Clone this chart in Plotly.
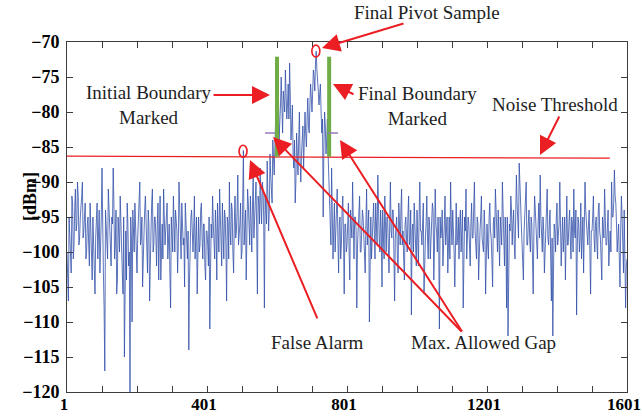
import plotly.graph_objects as go

# samples at 1,5,9,...,1601 (main) and 3,7,...,1599 (in-between)
main_1_397 = [-100,-107,-97,-103,-93,-99,-91,-96,-92,-98,
              -94,-90,-97,-93,-100,-95,-102,-97,-104,-99,
              -106,-96,-101,-94,-100,-88,-103,-117,-96,-101,
              -93,-99,-95,-88,-101,-94,-104,-97,-92,-99,
              -106,-115,-97,-93,-102,-120,-98,-94,-100,-96,
              -103,-95,-90,-98,-105,-96,-92,-100,-94,-107,
              -97,-91,-99,-95,-102,-93,-98,-104,-96,-91,
              -99,-94,-101,-96,-108,-97,-92,-100,-95,-103,
              -90,-97,-93,-99,-105,-96,-101,-114,-98,-94,
              -100,-92,-97,-106,-95,-99,-93,-101,-96,-104]

main_401_797 = [-97,-102,-111,-96,-92,-99,-94,-104,-97,-91,
                -98,-93,-101,-95,-107,-96,-90,-99,-94,-103,
                -92,-97,-89,-98,-93,-100,-85.5,-96,-104,-91,
                -97,-92,-100,-89,-95,-90,-106,-93,-88,-96,
                -91,-108,-94,-87,-97,-86,-92,-84,-89,-81,
                -86,-77,-82,-75,-83,-78,-74,-81,-76,-73,
                -84,-79,-88,-93,-83,-89,-80,-90,-84,-88,
                -80,-85,-78,-83,-76,-80,-74,-77,-71.3,-75,
                -79,-76,-83,-95,-80,-86,-81,-89,-96,-88,
                -101,-93,-97,-91,-103,-95,-99,-92,-106,-96]

main_801_1197 = [-99,-93,-104,-97,-90,-101,-95,-108,-96,-92,
                 -100,-94,-98,-103,-91,-97,-110,-95,-99,-93,
                 -101,-96,-89,-98,-94,-105,-97,-92,-100,-95,
                 -103,-90,-98,-94,-107,-96,-101,-93,-99,-91,
                 -97,-104,-95,-100,-92,-98,-109,-96,-93,-99,
                 -94,-102,-90,-97,-95,-106,-98,-92,-101,-96,
                 -99,-93,-104,-91,-97,-95,-111,-98,-94,-100,
                 -92,-97,-103,-95,-90,-99,-96,-105,-93,-98,
                 -101,-94,-97,-108,-95,-91,-99,-96,-102,-93,
                 -98,-90,-100,-95,-104,-97,-92,-99,-94,-106]

main_1201_1601 = [-96,-101,-93,-98,-105,-95,-91,-99,-94,-102,
                  -97,-90,-100,-95,-108,-112,-96,-92,-99,-94,
                  -101,-89,-96,-87.3,-93,-98,-104,-95,-90,-99,
                  -94,-100,-96,-106,-92,-97,-101,-93,-89,-98,
                  -95,-103,-97,-91,-99,-94,-107,-112,-96,-100,
                  -93,-98,-90,-102,-95,-97,-104,-92,-99,-94,
                  -101,-96,-91,-98,-109,-95,-100,-93,-97,-103,
                  -90,-96,-99,-94,-106,-97,-92,-100,-95,-101,
                  -93,-98,-104,-96,-91,-99,-94,-102,-97,-90,
                  -95,-88.3,-93,-100,-96,-105,-92,-99,-94,-108,
                  -101]

mid_3_399 = [-104,-95,-99,-92,-101,-94,-97,-90,-99,-95,
             -92,-98,-94,-101,-96,-99,-93,-100,-95,-102,
             -98,-93,-97,-103,-95,-99,-108,-94,-98,-91,
             -97,-102,-96,-93,-99,-106,-95,-100,-97,-103,
             -95,-99,-104,-96,-100,-95,-110,-97,-93,-101,
             -98,-92,-99,-95,-101,-94,-97,-103,-96,-99,
             -93,-100,-95,-98,-96,-104,-92,-99,-101,-95,
             -97,-93,-99,-103,-95,-100,-98,-94,-97,-99,
             -95,-101,-96,-98,-93,-100,-97,-104,-95,-99,
             -97,-101,-95,-98,-100,-94,-98,-96,-102,-97]

mid_403_799 = [-99,-95,-103,-98,-96,-101,-97,-93,-100,-96,
               -102,-97,-94,-99,-95,-101,-97,-93,-100,-96,
               -98,-94,-99,-96,-101,-95,-99,-94,-97,-93,
               -99,-95,-93,-98,-94,-97,-92,-96,-93,-90,
               -95,-92,-96,-91,-94,-89,-93,-87,-85,-83,
               -80,-84,-79,-80,-77,-80,-78,-79,-81,-78,
               -82,-86,-84,-90,-86,-84,-87,-86,-82,-85,
               -83,-81,-82,-79,-78,-77,-75,-73,-74,-77,
               -78,-80,-81,-85,-82,-84,-86,-92,-99,-94,
               -97,-100,-95,-98,-96,-101,-94,-98,-96,-100]

mid_803_1199 = [-96,-100,-94,-98,-101,-95,-97,-99,-93,-100,
                -97,-95,-102,-96,-99,-94,-98,-101,-95,-97,
                -93,-99,-96,-100,-97,-94,-101,-98,-95,-99,
                -96,-97,-94,-100,-98,-95,-103,-97,-94,-99,
                -101,-96,-98,-95,-99,-94,-97,-100,-96,-102,
                -98,-95,-97,-99,-93,-100,-96,-98,-95,-101,
                -97,-94,-99,-96,-100,-98,-95,-97,-102,-96,
                -99,-95,-98,-101,-96,-94,-100,-97,-99,-95,
                -96,-100,-94,-98,-97,-101,-95,-99,-96,-98,
                -94,-97,-101,-96,-99,-95,-98,-100,-97,-99]

mid_1203_1599 = [-99,-95,-97,-101,-96,-98,-94,-100,-97,-95,
                 -99,-96,-102,-98,-95,-100,-97,-94,-96,-99,
                 -95,-93,-98,-92,-96,-100,-97,-94,-99,-96,
                 -98,-95,-101,-97,-94,-99,-96,-98,-95,-100,
                 -97,-99,-95,-98,-96,-101,-98,-103,-97,-95,
                 -99,-96,-94,-98,-100,-95,-97,-99,-96,-98,
                 -95,-100,-97,-94,-99,-96,-98,-101,-95,-97,
                 -94,-99,-96,-100,-97,-95,-98,-96,-99,-94,
                 -97,-101,-95,-98,-96,-99,-94,-97,-100,-95,
                 -93,-92,-96,-98,-101,-97,-95,-103,-99,-102]

main_vals = main_1_397 + main_401_797 + main_801_1197 + main_1201_1601
mid_vals = mid_3_399 + mid_403_799 + mid_803_1199 + mid_1203_1599
x_vals = list(range(1, 1602, 2))
y_vals = []
for k in range(len(main_vals)):
    y_vals.append(main_vals[k])
    if k < len(mid_vals):
        y_vals.append(mid_vals[k])

# markers / reference levels
threshold_x = [1, 1552]
threshold_y = [-86.3, -86.6]
boundary_x = [601, 750]
boundary_y = [-86.4, -72.1]
gap_y = -83
gap_left = [567, 595]
gap_right = [747, 775]
pivot = (712, -71.3)
false_alarm = (504, -85.6)

x_tick_vals = list(range(1, 1602, 100))
x_tick_text = [str(v) if (v - 1) % 400 == 0 else "" for v in x_tick_vals]
y_tick_vals = list(range(-120, -69, 5))

RED = "rgb(235,30,35)"
SERIF = "Liberation Serif"

fig = go.Figure()
fig.add_trace(go.Scatter(x=x_vals, y=y_vals, mode="lines",
                         line=dict(color="rgb(50,80,170)", width=0.8),
                         showlegend=False, hoverinfo="skip"))

shapes = []
shapes.append(dict(type="line", xref="x", yref="y", x0=threshold_x[0], x1=threshold_x[1],
                   y0=threshold_y[0], y1=threshold_y[1], line=dict(color=RED, width=1.3)))
for bx in boundary_x:
    shapes.append(dict(type="line", xref="x", yref="y", x0=bx, x1=bx,
                       y0=boundary_y[0], y1=boundary_y[1],
                       line=dict(color="rgb(112,173,71)", width=4)))
for g in (gap_left, gap_right):
    shapes.append(dict(type="line", xref="x", yref="y", x0=g[0], x1=g[1], y0=gap_y, y1=gap_y,
                       line=dict(color="rgb(150,120,190)", width=1.5)))
for cx, cy in (pivot, false_alarm):
    shapes.append(dict(type="circle", xref="x", yref="y", x0=cx - 11.4, x1=cx + 11.4,
                       y0=cy - 0.86, y1=cy + 0.86, line=dict(color=RED, width=1.6)))

annotations = []
# arrows: (head_x, head_y, tail_x, tail_y) in data units
arrows = [(729.6, -70.86, 966.7, -67.29),
          (581, -77.57, 415.3, -77.57),
          (761, -76.0, 823.9, -77.57),
          (1352.4, -86.14, 1409.6, -80.43),
          (523.9, -86.86, 718, -109.7),
          (589.6, -83.57, 1132.4, -111.57),
          (781, -84.0, 1132.4, -111.57)]
for hx, hy, tx, ty in arrows:
    annotations.append(dict(x=hx, y=hy, ax=tx, ay=ty, xref="x", yref="y", axref="x", ayref="y",
                            text="", showarrow=True, arrowhead=2, arrowsize=1.8,
                            arrowwidth=2, arrowcolor=RED, standoff=0))

labels = [("Final Pivot Sample", 427, 12),
          ("Initial Boundary<br>Marked", 149, 105),
          ("Final Boundary<br>Marked", 417, 106),
          ("Noise Threshold", 555, 104),
          ("False Alarm", 317, 342),
          ("Max. Allowed Gap", 483, 342)]
for txt, px, py in labels:
    annotations.append(dict(x=(px - 67) / 560, y=(392 - py) / 350, xref="paper", yref="paper",
                            text=txt, showarrow=False, xanchor="center", yanchor="middle",
                            font=dict(family=SERIF, size=19, color="rgb(30,30,30)")))

annotations.append(dict(x=(18 - 67) / 560, y=(392 - 197) / 350, xref="paper", yref="paper",
                        text="<b>[dBm]</b>", textangle=-90, showarrow=False,
                        font=dict(family=SERIF, size=18, color="black")))

axis_common = dict(ticks="inside", ticklen=6, tickcolor="rgb(60,60,60)", showgrid=False,
                   zeroline=False, showline=True, linecolor="rgb(60,60,60)", linewidth=1,
                   mirror="allticks", automargin=False, ticklabeloverflow="allow")

fig.update_layout(
    width=642, height=416, margin=dict(l=67, r=15, t=42, b=24, autoexpand=False),
    paper_bgcolor="white", plot_bgcolor="white",
    shapes=shapes, annotations=annotations, showlegend=False,
    xaxis=dict(range=[1, 1601], tickvals=x_tick_vals, ticktext=x_tick_text,
               ticklabelstandoff=-3, ticklabelshift=-3,
               tickfont=dict(family=SERIF, size=17, color="black", weight="bold"),
               **axis_common),
    yaxis=dict(range=[-120, -70], tickvals=y_tick_vals, ticklabelstandoff=3,
               tickfont=dict(family=SERIF, size=18, color="black", weight="bold"),
               **axis_common),
)

fig.write_html("out.html")
